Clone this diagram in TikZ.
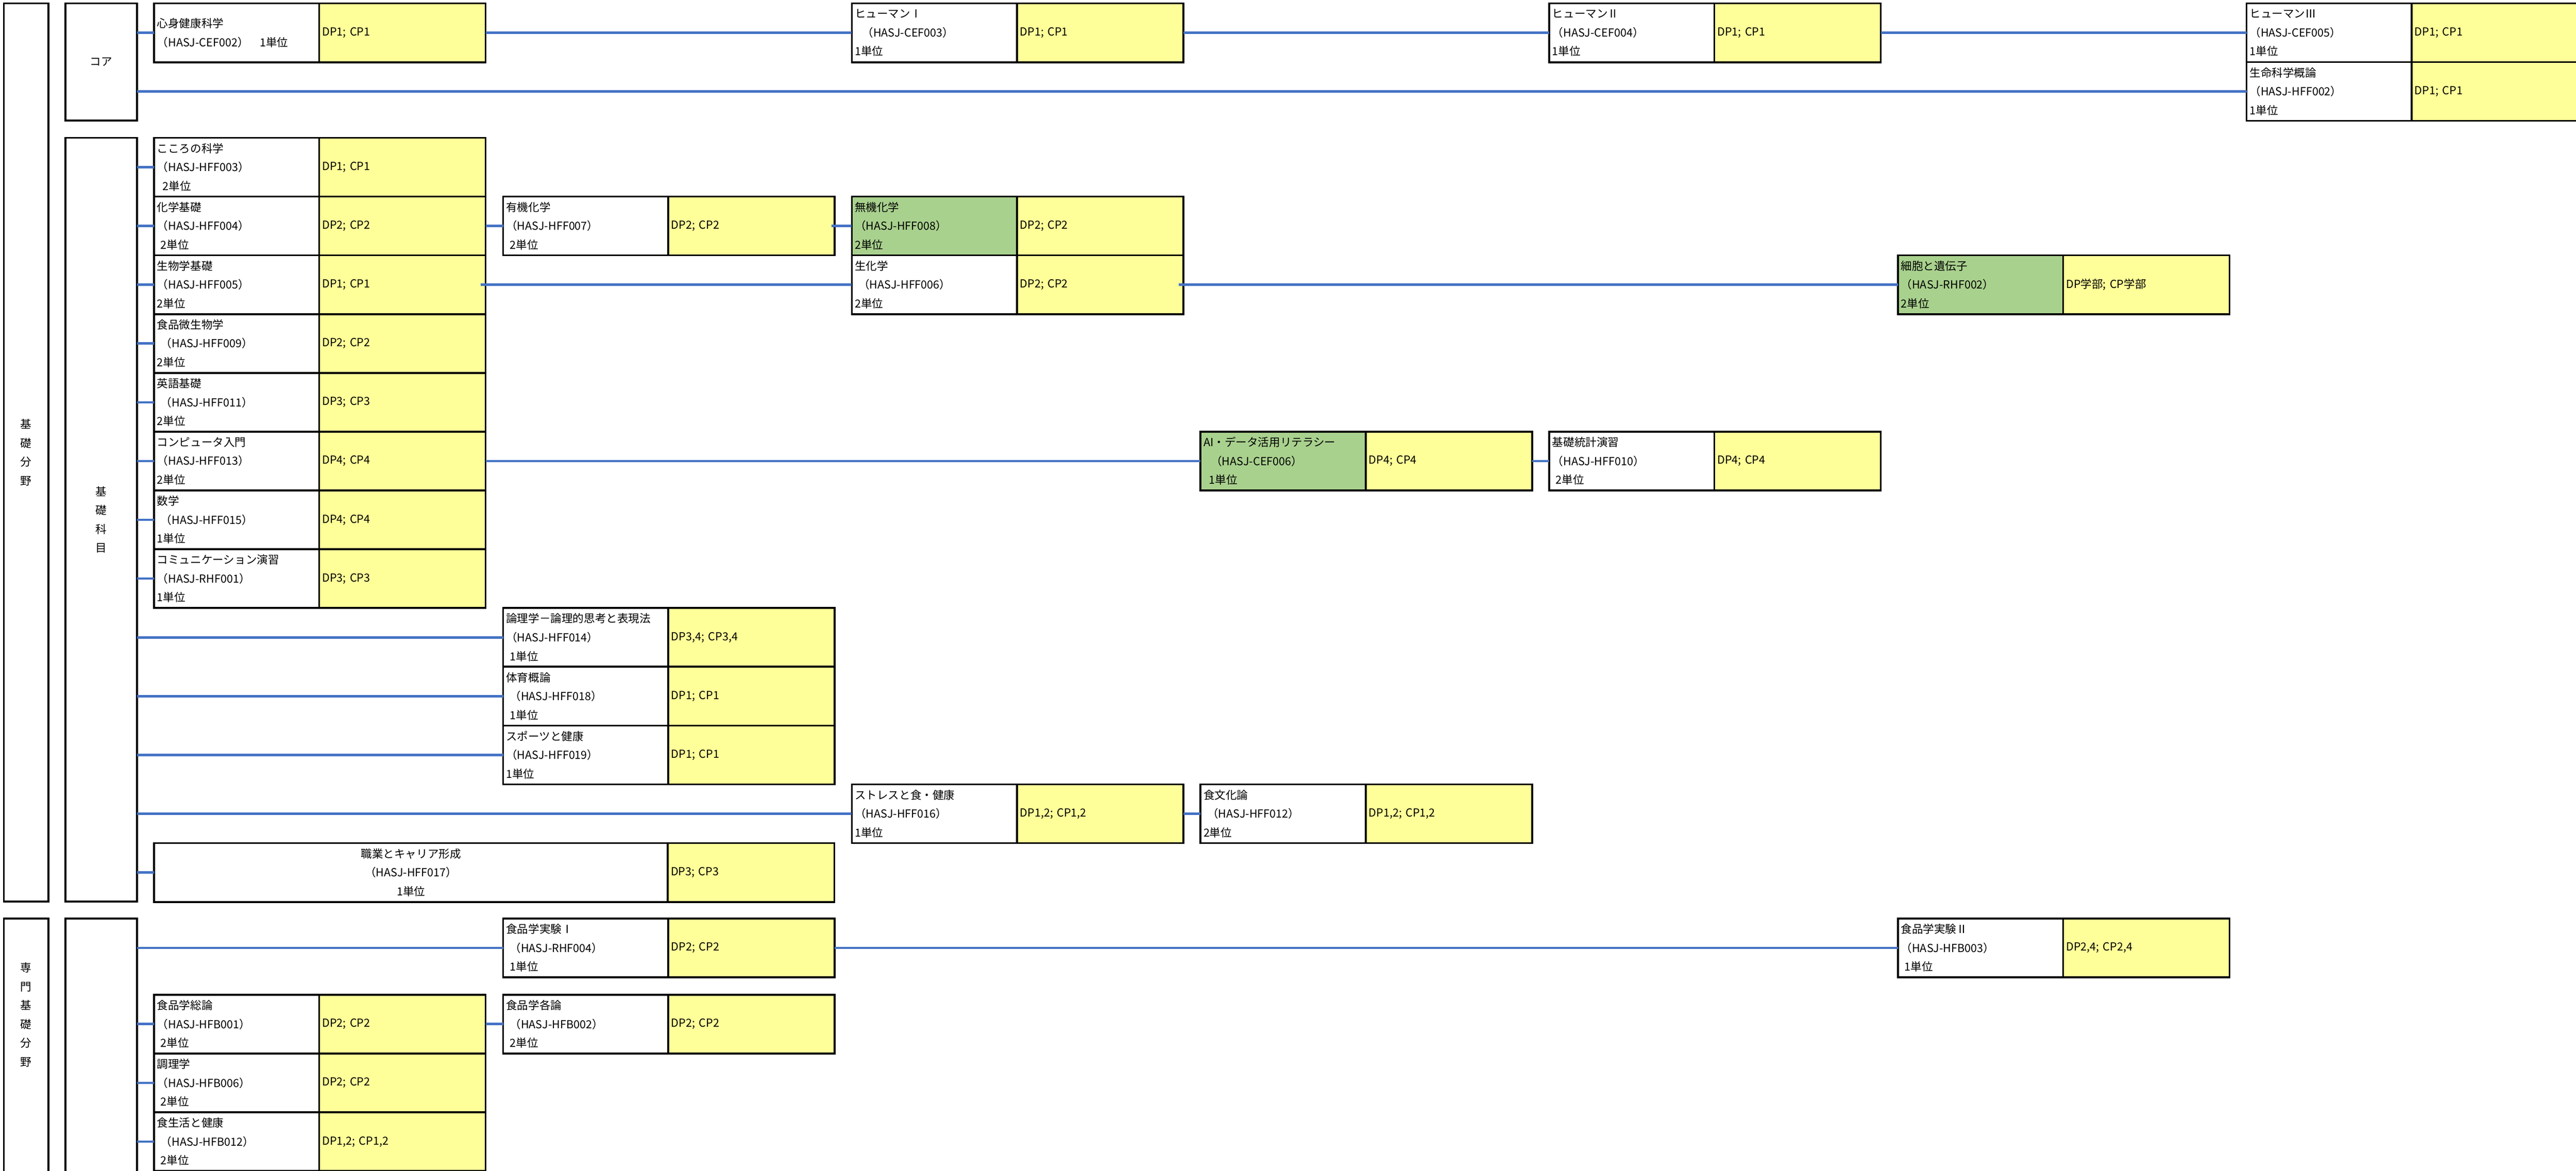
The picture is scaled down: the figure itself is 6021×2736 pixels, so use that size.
\documentclass[tikz,border=0pt]{standalone}
\usepackage{fontspec}
\setmainfont{Noto Sans CJK JP}
\usepackage{tikz}

\newcommand{\kamoku}{\fontsize{6.5pt}{11pt}\selectfont}
\newcommand{\sk}{\hspace*{0.33em}}

\tikzset{
  kbox/.style={draw, line width=1.1pt, anchor=north west, outer sep=0pt, inner ysep=0pt, inner xsep=1.75pt, minimum height=34.35pt, font=\kamoku, align=left},
  namecell/.style={kbox, fill=white, minimum width=96.5pt, text width=93pt},
  greencell/.style={namecell, fill={rgb, 255:red, 169; green, 209; blue, 142 }},
  dpcell/.style={kbox, fill={rgb, 255:red, 255; green, 255; blue, 153 }, minimum width=97.25pt, text width=93.75pt},
  widecell/.style={kbox, fill=white, minimum width=300.25pt, text width=296.75pt, align=center},
  fieldbox/.style={draw, line width=1.1pt, anchor=north west, outer sep=0pt, inner sep=0pt, minimum width=26pt, font=\kamoku, align=center},
  subbox/.style={fieldbox, minimum width=41.75pt},
  link/.style={draw={rgb, 255:red, 68; green, 114; blue, 196 }, line width=1.4pt},
}

\begin{document}
\begin{tikzpicture}[x=0.25pt,y=0.25pt,yscale=-1,xscale=1]
\useasboundingbox (0,0) rectangle (6021,2736);
\clip (0,0) rectangle (6021,2736);
\fill[white] (0,0) rectangle (6021,2736);

%Shape: Rectangle [fields]
\node[fieldbox, minimum height=524.75pt] (kisobunya) at (9,8) {基\\礎\\分\\野};
\node[fieldbox, minimum height=190pt] (senmonbunya) at (9,2147) {};
\node[font=\kamoku, align=center] (senmonlabel) at (61,2372) {専\\門\\基\\礎\\分\\野};
\node[subbox, minimum height=68.5pt] (core) at (153,8) {コア};
\node[subbox, minimum height=446.25pt] (kiso) at (153,322) {基\\礎\\科\\目};
\node[subbox, minimum height=190pt] (senmon) at (153,2147) {};

%Shape: Rectangle [core]
\node[namecell] (shinshinN) at (360,8) {心身健康科学\\（HASJ-CEF002）　1単位};
\node[dpcell] (shinshinD) at (shinshinN.north east) {DP1; CP1};
\node[namecell] (human1N) at (1991,8) {ヒューマンⅠ\\\sk\sk（HASJ-CEF003）\\1単位};
\node[dpcell] (human1D) at (human1N.north east) {DP1; CP1};
\node[namecell] (human2N) at (3621,8) {ヒューマンⅡ\\（HASJ-CEF004）\\1単位};
\node[dpcell] (human2D) at (human2N.north east) {DP1; CP1};
\node[namecell] (human3N) at (5251,8) {ヒューマンⅢ\\（HASJ-CEF005）\\1単位};
\node[dpcell] (human3D) at (human3N.north east) {DP1; CP1};
\node[namecell] (seimeiN) at (5251,145) {生命科学概論\\（HASJ-HFF002）\\1単位};
\node[dpcell] (seimeiD) at (seimeiN.north east) {DP1; CP1};

%Shape: Rectangle [kiso, first column]
\node[namecell] (kokoroN) at (360,322) {こころの科学\\（HASJ-HFF003）\\\hspace*{0.5em}2単位};
\node[dpcell] (kokoroD) at (kokoroN.north east) {DP1; CP1};
\node[namecell] (kagakuN) at (360,459.4) {化学基礎\\（HASJ-HFF004）\\\sk 2単位};
\node[dpcell] (kagakuD) at (kagakuN.north east) {DP2; CP2};
\node[namecell] (seibutsuN) at (360,596.8) {生物学基礎\\（HASJ-HFF005）\\2単位};
\node[dpcell] (seibutsuD) at (seibutsuN.north east) {DP1; CP1};
\node[namecell] (biseibutsuN) at (360,734.2) {食品微生物学\\\sk（HASJ-HFF009）\\2単位};
\node[dpcell] (biseibutsuD) at (biseibutsuN.north east) {DP2; CP2};
\node[namecell] (eigoN) at (360,871.6) {英語基礎\\\sk（HASJ-HFF011）\\2単位};
\node[dpcell] (eigoD) at (eigoN.north east) {DP3; CP3};
\node[namecell] (computerN) at (360,1009) {コンピュータ入門\\（HASJ-HFF013）\\2単位};
\node[dpcell] (computerD) at (computerN.north east) {DP4; CP4};
\node[namecell] (suugakuN) at (360,1146.4) {数学\\\sk（HASJ-HFF015）\\1単位};
\node[dpcell] (suugakuD) at (suugakuN.north east) {DP4; CP4};
\node[namecell] (commN) at (360,1283.8) {コミュニケーション演習\\（HASJ-RHF001）\\1単位};
\node[dpcell] (commD) at (commN.north east) {DP3; CP3};

%Shape: Rectangle [kiso, other columns]
\node[namecell] (yukiN) at (1176,459.4) {有機化学\\（HASJ-HFF007）\\\sk 2単位};
\node[dpcell] (yukiD) at (yukiN.north east) {DP2; CP2};
\node[greencell] (mukiN) at (1991,459.4) {無機化学\\（HASJ-HFF008）\\2単位};
\node[dpcell] (mukiD) at (mukiN.north east) {DP2; CP2};
\node[namecell] (seikaN) at (1991,596.8) {生化学\\\sk（HASJ-HFF006）\\2単位};
\node[dpcell] (seikaD) at (seikaN.north east) {DP2; CP2};
\node[greencell] (saibouN) at (4436,596.8) {細胞と遺伝子\\（HASJ-RHF002）\\2単位};
\node[dpcell] (saibouD) at (saibouN.north east) {DP学部; CP学部};
\node[greencell] (aiN) at (2806,1009) {AI・データ活用リテラシー\\\sk\sk（HASJ-CEF006）\\\hspace*{0.5em}1単位};
\node[dpcell] (aiD) at (aiN.north east) {DP4; CP4};
\node[namecell] (toukeiN) at (3621,1009) {基礎統計演習\\（HASJ-HFF010）\\\sk 2単位};
\node[dpcell] (toukeiD) at (toukeiN.north east) {DP4; CP4};
\node[namecell] (ronriN) at (1176,1421.2) {論理学－論理的思考と表現法\\（HASJ-HFF014）\\\sk 1単位};
\node[dpcell] (ronriD) at (ronriN.north east) {DP3,4; CP3,4};
\node[namecell] (taiikuN) at (1176,1558.6) {体育概論\\\sk（HASJ-HFF018）\\\sk 1単位};
\node[dpcell] (taiikuD) at (taiikuN.north east) {DP1; CP1};
\node[namecell] (sportsN) at (1176,1696) {スポーツと健康\\（HASJ-HFF019）\\1単位};
\node[dpcell] (sportsD) at (sportsN.north east) {DP1; CP1};
\node[namecell] (stressN) at (1991,1833.4) {ストレスと食・健康\\（HASJ-HFF016）\\1単位};
\node[dpcell] (stressD) at (stressN.north east) {DP1,2; CP1,2};
\node[namecell] (shokubunkaN) at (2806,1833.4) {食文化論\\\sk（HASJ-HFF012）\\2単位};
\node[dpcell] (shokubunkaD) at (shokubunkaN.north east) {DP1,2; CP1,2};
\node[widecell] (shokugyoN) at (360,1970.8) {職業とキャリア形成\\（HASJ-HFF017）\\1単位};
\node[dpcell] (shokugyoD) at (shokugyoN.north east) {DP3; CP3};

%Shape: Rectangle [senmon]
\node[namecell] (jikken1N) at (1176,2147) {食品学実験Ⅰ\\\sk（HASJ-RHF004）\\\sk 1単位};
\node[dpcell] (jikken1D) at (jikken1N.north east) {DP2; CP2};
\node[namecell] (jikken2N) at (4436,2147) {食品学実験Ⅱ\\（HASJ-HFB003）\\\sk 1単位};
\node[dpcell] (jikken2D) at (jikken2N.north east) {DP2,4; CP2,4};
\node[namecell] (souronN) at (360,2325) {食品学総論\\（HASJ-HFB001）\\\sk 2単位};
\node[dpcell] (souronD) at (souronN.north east) {DP2; CP2};
\node[namecell] (kakuronN) at (1176,2325) {食品学各論\\\sk（HASJ-HFB002）\\\sk 2単位};
\node[dpcell] (kakuronD) at (kakuronN.north east) {DP2; CP2};
\node[namecell] (chouriN) at (360,2462.4) {調理学\\（HASJ-HFB006）\\\sk 2単位};
\node[dpcell] (chouriD) at (chouriN.north east) {DP2; CP2};
\node[namecell] (shokuseikatsuN) at (360,2599.8) {食生活と健康\\\sk（HASJ-HFB012）\\\sk 2単位};
\node[dpcell] (shokuseikatsuD) at (shokuseikatsuN.north east) {DP1,2; CP1,2};

%Straight Lines [core]
\draw[link] (core.east |- shinshinN.west) -- (shinshinN.west);
\draw[link] (shinshinD.east) -- (human1N.west);
\draw[link] (human1D.east) -- (human2N.west);
\draw[link] (human2D.east) -- (human3N.west);
\draw[link] (core.east |- seimeiN.west) -- (seimeiN.west);

%Straight Lines [kiso]
\draw[link] (kiso.east |- kokoroN.west) -- (kokoroN.west);
\draw[link] (kiso.east |- kagakuN.west) -- (kagakuN.west);
\draw[link] (kiso.east |- seibutsuN.west) -- (seibutsuN.west);
\draw[link] (kiso.east |- biseibutsuN.west) -- (biseibutsuN.west);
\draw[link] (kiso.east |- eigoN.west) -- (eigoN.west);
\draw[link] (kiso.east |- computerN.west) -- (computerN.west);
\draw[link] (kiso.east |- suugakuN.west) -- (suugakuN.west);
\draw[link] (kiso.east |- commN.west) -- (commN.west);
\draw[link] (kiso.east |- ronriN.west) -- (ronriN.west);
\draw[link] (kiso.east |- taiikuN.west) -- (taiikuN.west);
\draw[link] (kiso.east |- sportsN.west) -- (sportsN.west);
\draw[link] (kiso.east |- stressN.west) -- (stressN.west);
\draw[link] (kiso.east |- shokugyoN.west) -- (shokugyoN.west);
\draw[link] (kagakuD.east) -- (yukiN.west);
\draw[link] ([xshift=-2pt]yukiD.east) -- (mukiN.west);
\draw[link] ([xshift=-2.75pt]seibutsuD.east) -- (seikaN.west);
\draw[link] ([xshift=-2.75pt]seikaD.east) -- (saibouN.west);
\draw[link] (computerD.east) -- (aiN.west);
\draw[link] (aiD.east) -- (toukeiN.west);
\draw[link] (stressD.east) -- (shokubunkaN.west);

%Straight Lines [senmon]
\draw[link] (senmon.east |- jikken1N.west) -- (jikken1N.west);
\draw[link] (jikken1D.east) -- (jikken2N.west);
\draw[link] (senmon.east |- souronN.west) -- (souronN.west);
\draw[link] (senmon.east |- chouriN.west) -- (chouriN.west);
\draw[link] (senmon.east |- shokuseikatsuN.west) -- (shokuseikatsuN.west);
\draw[link] (souronD.east) -- (kakuronN.west);
\end{tikzpicture}
\end{document}
